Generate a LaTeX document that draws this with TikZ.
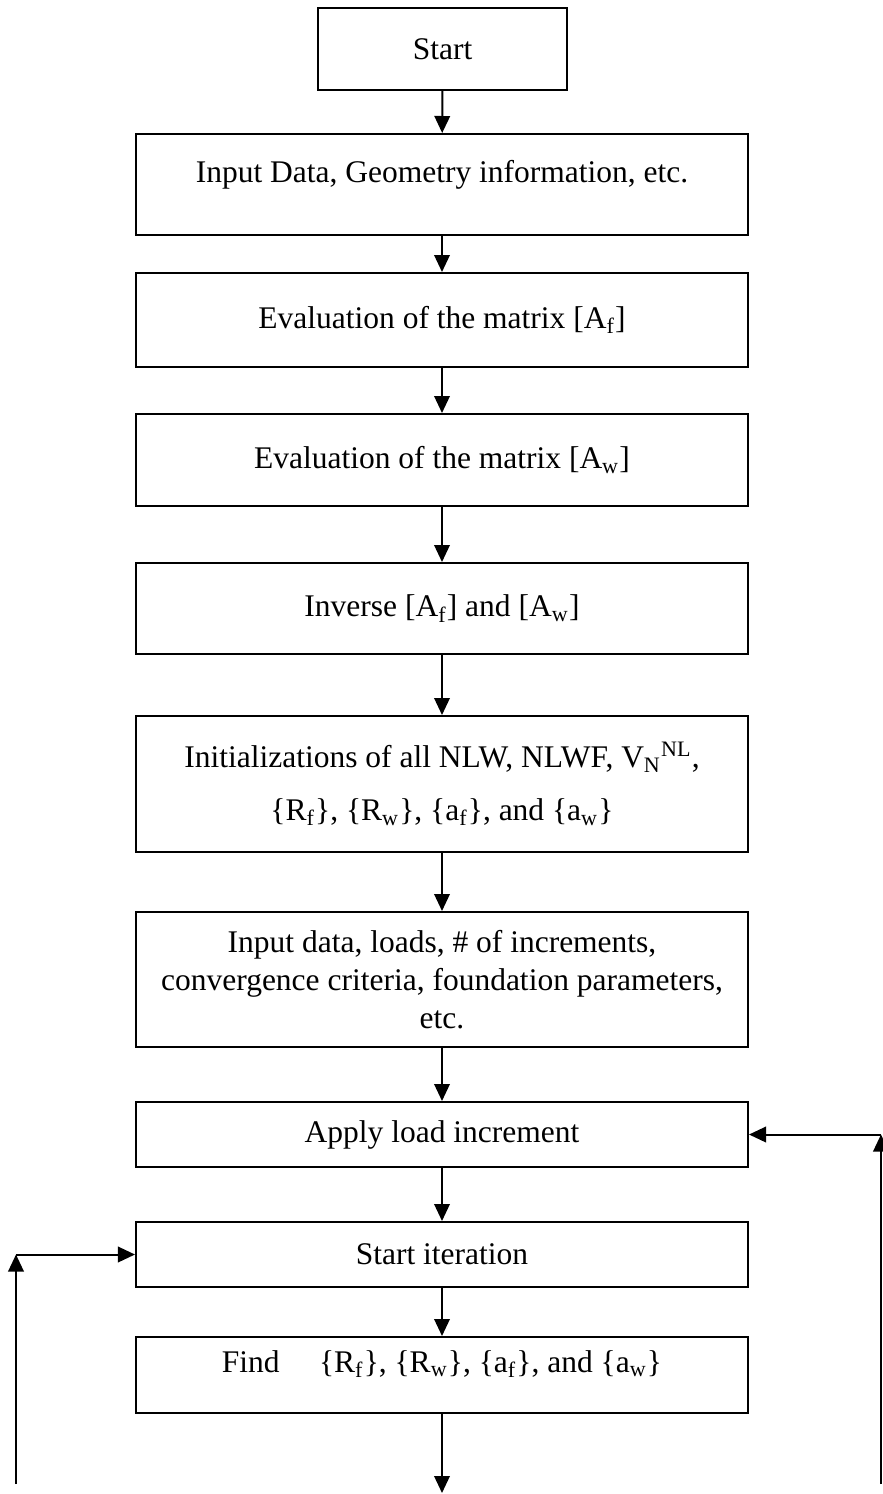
\documentclass[tikz,border=0pt]{standalone}
\usepackage{fontspec}
\setmainfont{Liberation Serif}
\usepackage{tikz}
\usetikzlibrary{arrows.meta}
\newcommand{\tsub}[1]{\textsubscript{#1}}
\newcommand{\tsup}[1]{\textsuperscript{#1}}

\begin{document}
\begin{tikzpicture}[x=0.4pt, y=-0.4pt, font=\fontsize{12.6}{14.5}\selectfont,
    box/.style={draw, thick, minimum width=244.8pt, align=center, inner sep=2pt},
    flow/.style={thick, -{Triangle[length=6.8pt,width=6.2pt]}}]
  \useasboundingbox (0,0) rectangle (882,1494);
  % set-up
  \node[box, minimum width=99.6pt, minimum height=32.8pt] (start) at (442.5,49) {Start};
  \node[box, minimum height=40.4pt, text depth=10.5pt] (input) at (442,184.5) {Input Data, Geometry information, etc.};
  \node[box, minimum height=37.6pt] (evalf) at (442,320) {Evaluation of the matrix [A\tsub{f}]};
  \node[box, minimum height=36.8pt] (evalw) at (442,460) {Evaluation of the matrix [A\tsub{w}]};
  \node[box, minimum height=36.4pt] (inverse) at (442,608.5) {Inverse [A\tsub{f}] and [A\tsub{w}]};
  \node[box, minimum height=54.4pt, font=\fontsize{12.6}{21.2}\selectfont] (init) at (442,784)
    {Initializations of all NLW, NLWF, V\tsub{N}\tsup{NL},\\
     \{R\tsub{f}\}, \{R\tsub{w}\}, \{a\tsub{f}\}, and \{a\tsub{w}\}};
  \node[box, minimum height=54pt, font=\fontsize{12.6}{15.2}\selectfont] (loads) at (442,979.5)
    {Input data, loads, \# of increments,\\
     convergence criteria, foundation parameters,\\
     etc.};
  % load and iteration loop
  \node[box, minimum height=26pt] (apply) at (442,1134.5) {Apply load increment};
  \node[box, minimum height=26pt] (startit) at (442,1254.5) {Start iteration};
  \node[box, minimum height=30.4pt, text depth=11pt] (find) at (442,1375)
    {Find\quad\ \{R\tsub{f}\}, \{R\tsub{w}\}, \{a\tsub{f}\}, and \{a\tsub{w}\}};
  \coordinate (out) at (442,1493);
  \coordinate (lbot) at (16,1484);
  \coordinate (lcorner) at (16,1254.5);
  \coordinate (rbot) at (881,1484);
  \coordinate (rcorner) at (881,1134.5);
  % main chain
  \draw[flow] (start) -- (input);
  \draw[flow] (input) -- (evalf);
  \draw[flow] (evalf) -- (evalw);
  \draw[flow] (evalw) -- (inverse);
  \draw[flow] (inverse) -- (init);
  \draw[flow] (init) -- (loads);
  \draw[flow] (loads) -- (apply);
  \draw[flow] (apply) -- (startit);
  \draw[flow] (startit) -- (find);
  \draw[flow] (find) -- (out);
  % returns
  \draw[flow] (lbot) -- (lcorner);
  \draw[flow] (lcorner) -- (startit.west);
  \draw[flow] (rbot) -- (rcorner);
  \draw[flow] (rcorner) -- (apply.east);
\end{tikzpicture}
\end{document}
